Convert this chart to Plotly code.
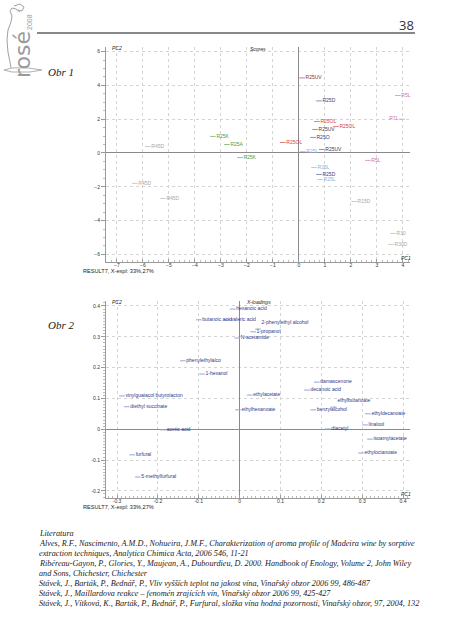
import plotly.graph_objects as go

W, H = 451, 640

def PX(x):
    return x / W

def PY(y):
    return 1 - y / H

# ---------------- data: scores (Obr 1) ----------------
score_labels = ["R25UV", "R25D", "R5L", "R7L", "R25OL", "R25UV", "R25OL", "R25O",
                "R25OL", "R25UV", "R25L", "R5L", "R25L", "R25D", "R25L", "R15D",
                "R30", "R30D", "R25K", "R25A", "R45D", "R25K", "R45D", "R45D"]
score_x = [0.12, 0.77, 3.80, 3.96, 0.69, 0.62, 1.42, 0.54,
           -0.62, 0.88, 0.15, 2.65, 0.58, 0.77, 0.81, 2.12,
           3.62, 3.54, -3.31, -2.77, -5.81, -2.27, -6.31, -5.23]
score_y = [4.44, 3.08, 3.40, 2.00, 1.86, 1.39, 1.57, 0.92,
           0.62, 0.21, 0.09, -0.44, -0.86, -1.27, -1.57, -2.87,
           -4.76, -5.41, 0.98, 0.50, 0.38, -0.27, -1.80, -2.69]
score_group = ["UV", "D", "L", "L", "OL", "UV2", "OL", "D",
               "OL", "UV2", "LB", "L", "LB", "D", "LB", "G",
               "G", "G", "K", "K", "G", "K", "G", "G"]

# ---------------- data: X-loadings (Obr 2) ----------------
load_labels = ["hexanoic acid", "butanoic acid", "valeric acid", "1-propanol",
               "2-phenylethyl alcohol", "N-acetamide", "phenylethylalco", "1-hexanol",
               "vinylguaiacol butyrolacton", "diethyl succinate", "acetic acid", "furfural",
               "5-methylfurfural", "ethylacetate", "ethylhexanoate", "damascenone",
               "decanoic acid", "benzylalcohol", "ethylbutanoate", "ethyldecanoate",
               "linalool", "diacetyl", "isoamylacetate", "ethyloctanoate"]
load_x = [-0.017, -0.100, -0.030, 0.033,
          0.045, -0.006, -0.139, -0.092,
          -0.288, -0.276, -0.187, -0.263,
          -0.249, 0.025, -0.004, 0.189,
          0.165, 0.180, 0.231, 0.314,
          0.307, 0.216, 0.319, 0.297]
load_y = [0.390, 0.355, 0.355, 0.316,
          0.325, 0.296, 0.222, 0.179,
          0.108, 0.073, -0.002, -0.083,
          -0.155, 0.111, 0.063, 0.153,
          0.127, 0.063, 0.072, 0.050,
          0.014, 0.001, -0.032, -0.077]

score_xticks = [-7, -6, -5, -4, -3, -2, -1, 0, 1, 2, 3, 4]
score_yticks = [-6, -4, -2, 0, 2, 4, 6]
load_xticks = [-0.3, -0.2, -0.1, 0, 0.1, 0.2, 0.3, 0.4]
load_xticktext = ["-0.3", "-0.2", "-0.1", "0", "0.1", "0.2", "0.3", "0.4"]
load_yticks = [-0.2, -0.1, 0, 0.1, 0.2, 0.3, 0.4]
load_yticktext = ["-0.2", "-0.1", "0", "0.1", "0.2", "0.3", "0.4"]

references = [
    "Literatura",
    "Alves, R.F., Nascimento, A.M.D., Nohueira, J.M.F., Charakterization of aroma profile of Madeira wine by sorptive",
    "extraction techniques, Analytica Chimica Acta, 2006 546, 11-21",
    "Ribéreau-Gayon, P., Glories, Y., Maujean, A., Dubourdieu, D. 2000. Handbook of Enology, Volume 2, John Wiley",
    "and Sons, Chichester, Chichester",
    "Stávek, J., Barták, P., Bednář, P., Vliv vyšších teplot na jakost vína, Vinařský obzor 2006 99, 486-487",
    "Stávek, J., Maillardova reakce – fenomén zrajících vín, Vinařský obzor 2006 99, 425-427",
    "Stávek, J., Vítková, K., Barták, P., Bednář, P., Furfural, složka vína hodná pozornosti, Vinařský obzor, 97, 2004, 132",
]

# ---------------- styles ----------------
group_text = {"UV": "#8a3422", "D": "#2e3f86", "L": "#cf6fa6", "OL": "#d6403c",
              "UV2": "#4a3a44", "LB": "#8fb0dc", "G": "#a8a8a8", "K": "#4f9a4a"}
group_mark = {"UV": "#c08070", "D": "#8090c0", "L": "#e0a0c8", "OL": "#e08080",
              "UV2": "#9a909a", "LB": "#b8cce8", "G": "#cccccc", "K": "#90c090"}

fig = go.Figure()

score_pos = ["middle left" if (lab == "R7L") else "middle right" for lab in score_labels]
fig.add_trace(go.Scatter(
    x=score_x, y=score_y, text=score_labels, mode="markers+text",
    textposition=score_pos,
    textfont=dict(size=5, family="Liberation Sans", color=[group_text[g] for g in score_group]),
    marker=dict(symbol="line-ew", size=4,
                line=dict(width=1, color=[group_mark[g] for g in score_group])),
    xaxis="x", yaxis="y", hoverinfo="skip", showlegend=False, cliponaxis=False))

load_pos_special = {"2-phenylethyl alcohol": "top right", "ethylbutanoate": "top right"}
load_pos = [load_pos_special.get(lab, "middle right") for lab in load_labels]
fig.add_trace(go.Scatter(
    x=load_x, y=load_y, text=load_labels, mode="markers+text",
    textposition=load_pos,
    textfont=dict(size=5, family="Liberation Sans", color="#2b3a8c"),
    marker=dict(symbol="line-ew", size=4, line=dict(width=1, color="#90a8d8")),
    xaxis="x2", yaxis="y2", hoverinfo="skip", showlegend=False, cliponaxis=False))

axis_common = dict(showgrid=True, gridcolor="#d4d4d4", griddash="dot", gridwidth=1,
                   zeroline=True, zerolinecolor="#8a8a8a", zerolinewidth=1,
                   showline=True, linecolor="#9a9a9a", linewidth=1,
                   tickfont=dict(size=5, family="Liberation Sans", color="#333"),
                   tickcolor="#9a9a9a", fixedrange=True)

fig.update_layout(
    width=W, height=H, margin=dict(l=0, r=0, t=0, b=0),
    paper_bgcolor="white", plot_bgcolor="white", showlegend=False,
    xaxis=dict(domain=[PX(106), PX(410)], range=[-7.42, 4.27], anchor="y",
               tickvals=score_xticks, ticks="inside", ticklen=3, ticklabelstandoff=-2,
               minor=dict(ticks="inside", ticklen=2, dtick=0.2, tickcolor="#bbb", showgrid=False),
               **axis_common),
    yaxis=dict(domain=[PY(262), PY(47)], range=[-6.45, 6.27], anchor="x",
               tickvals=score_yticks, ticks="outside", ticklen=4,
               minor=dict(ticks="outside", ticklen=2, dtick=0.5, tickcolor="#bbb", showgrid=False),
               **axis_common),
    xaxis2=dict(domain=[PX(106), PX(410)], range=[-0.327, 0.417], anchor="y2",
                tickvals=load_xticks, ticktext=load_xticktext, ticks="inside", ticklen=3,
                ticklabelstandoff=-2,
                minor=dict(ticks="inside", ticklen=2, dtick=0.01, tickcolor="#bbb", showgrid=False),
                **axis_common),
    yaxis2=dict(domain=[PY(498), PY(301)], range=[-0.223, 0.416], anchor="x2",
                tickvals=load_yticks, ticktext=load_yticktext, ticks="outside", ticklen=4,
                minor=dict(ticks="outside", ticklen=2, dtick=0.01, tickcolor="#bbb", showgrid=False),
                **axis_common),
)

ann = []

def text(x, y, s, size, color="#333", anchor="left", family="Liberation Sans", angle=0, yanchor="middle"):
    ann.append(dict(x=PX(x), y=PY(y), xref="paper", yref="paper", text=s, showarrow=False,
                    xanchor=anchor, yanchor=yanchor, textangle=angle,
                    font=dict(size=size, color=color, family=family)))

small = 5
# Plot 1 labels
text(110, 48, "<i>PC2</i>", small, "#222")
text(258, 49, "<i>Scores</i>", small, "#222", anchor="center")
text(399, 258, "<i>PC1</i>", small, "#222")
text(81, 271, "RESULT7, X-expl: 33%,27%", 5.6, "#222")
# Plot 2 labels
text(110, 302, "<i>PC2</i>", small, "#222")
text(258, 302, "<i>X-loadings</i>", small, "#222", anchor="center")
text(399, 494, "<i>PC1</i>", small, "#222")
text(81, 507, "RESULT7, X-expl: 33%,27%", 5.6, "#222")

# page elements
text(416, 25, "38", 13, "#333", anchor="right", family="Open Sans")
text(46, 72, "<i>Obr 1</i>", 11, "#222", family="Liberation Serif")
text(46, 325, "<i>Obr 2</i>", 11, "#222", family="Liberation Serif")
text(22, 55, "rosé", 22, "#9a9a9a", anchor="center", family="DejaVu Sans", angle=-90)
text(29, 22, "2008", 7, "#9a9a9a", anchor="center", family="Liberation Sans", angle=-90)

ref_y = [533, 543, 553, 563, 573, 583, 593, 603]
for yy, s in zip(ref_y, references):
    text(37, yy, "<i>" + s + "</i>", 8.2, "#222", family="Liberation Serif")

fig.update_layout(annotations=ann)

def path(points):
    p = "M {:.4f},{:.4f}".format(PX(points[0][0]), PY(points[0][1]))
    for (x, y) in points[1:]:
        p += " L {:.4f},{:.4f}".format(PX(x), PY(y))
    return p

shapes = [
    dict(type="line", xref="paper", yref="paper", x0=PX(37), x1=PX(415), y0=PY(33), y1=PY(33),
         line=dict(color="#111", width=1)),
    dict(type="path", xref="paper", yref="paper",
         path=path([(20, 12), (16, 9), (12, 8), (10, 11), (12, 16), (11, 22), (8, 30), (7, 40),
                    (8, 52), (10, 62), (11, 68)]),
         line=dict(color="#a0a0a0", width=1)),
    dict(type="path", xref="paper", yref="paper",
         path=path([(14, 6), (20, 4), (24, 7), (22, 11), (18, 10)]),
         line=dict(color="#a0a0a0", width=1)),
    dict(type="path", xref="paper", yref="paper",
         path=path([(4, 70), (12, 68), (28, 68), (42, 70), (30, 72), (12, 72), (4, 70)]),
         line=dict(color="#b0b0b0", width=1)),
]
fig.update_layout(shapes=shapes)

fig.write_html("out.html", config={"displayModeBar": False, "staticPlot": False},
               post_script="document.body.style.margin='0px';document.body.style.padding='0px';"
                           "document.body.style.overflow='hidden';")
